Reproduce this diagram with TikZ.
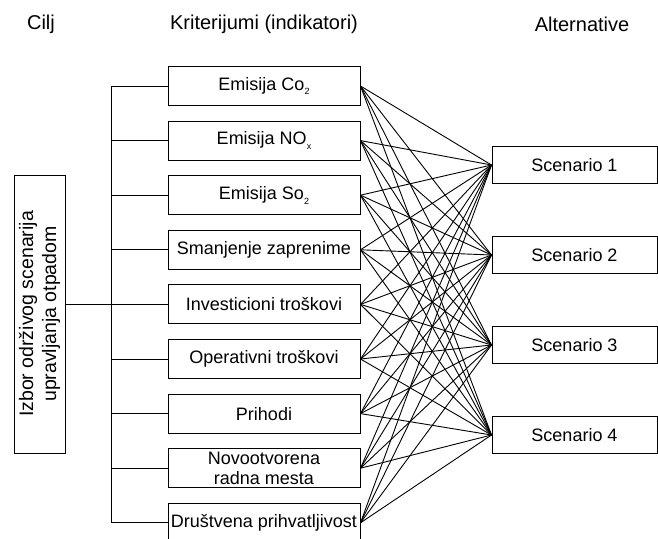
\documentclass[tikz,border=0pt]{standalone}
\usepackage{fontspec}
\setmainfont{Liberation Sans}
\usetikzlibrary{positioning}

\newcommand{\lowidx}[1]{\raisebox{-0.5ex}{\fontsize{9}{9}\selectfont #1}}

\begin{document}
\begin{tikzpicture}[x=1pt, y=-1pt, node distance=54.6pt, on grid, line width=1pt,
    crit/.style={draw, minimum width=192pt, minimum height=39pt, inner sep=1pt, align=center, font=\fontsize{18}{20}\selectfont},
    alt/.style={draw, minimum width=165pt, minimum height=37pt, inner sep=1pt, font=\fontsize{18}{20}\selectfont},
    head/.style={font=\fontsize{20}{24}\selectfont}]
    \useasboundingbox (0,0) rectangle (658,538);

    % Headers
    \node[head] (hcilj) at (41,24) {Cilj};
    \node[head] (hkrit) at (264,24) {Kriterijumi (indikatori)};
    \node[head] (halt) at (582,24) {Alternative};

    % Goal
    \node[draw, rotate=90, minimum width=278pt, minimum height=51pt, inner sep=1pt, align=center,
          font=\fontsize{19.5}{23}\selectfont] (goal) at (39.5,314) {Izbor održivog scenarija\\upravljanja otpadom};

    % Criteria
    \node[crit] (c1) at (264,86) {Emisija Co\lowidx{2}};
    \node[crit] (c2) [below=of c1] {Emisija NO\lowidx{x}};
    \node[crit] (c3) [below=of c2] {Emisija So\lowidx{2}};
    \node[crit] (c4) [below=of c3] {Smanjenje zaprenime};
    \node[crit] (c5) [below=of c4] {Investicioni troškovi};
    \node[crit] (c6) [below=of c5] {Operativni troškovi};
    \node[crit] (c7) [below=of c6] {Prihodi};
    \node[crit] (c8) [below=of c7] {Novootvorena\\radna mesta};
    \node[crit] (c9) [below=of c8] {Društvena prihvatljivost};

    % Alternatives
    \node[alt] (s1) at (574.5,165) {Scenario 1};
    \node[alt] (s2) [below=90pt of s1] {Scenario 2};
    \node[alt] (s3) [below=90pt of s2] {Scenario 3};
    \node[alt] (s4) [below=90pt of s3] {Scenario 4};

    % Tree
    \draw (c5.west -| goal.south) -- (c5.west);
    \foreach \i in {1,...,9}
        \draw (c\i.west) -- ++(-56,0) coordinate (b\i);
    \draw (b1) -- (b9);

    % Links
    \foreach \i in {1,...,9}
        \foreach \j in {1,...,4}
            \draw[line width=0.9pt] (c\i.east) -- (s\j.west);
\end{tikzpicture}
\end{document}
